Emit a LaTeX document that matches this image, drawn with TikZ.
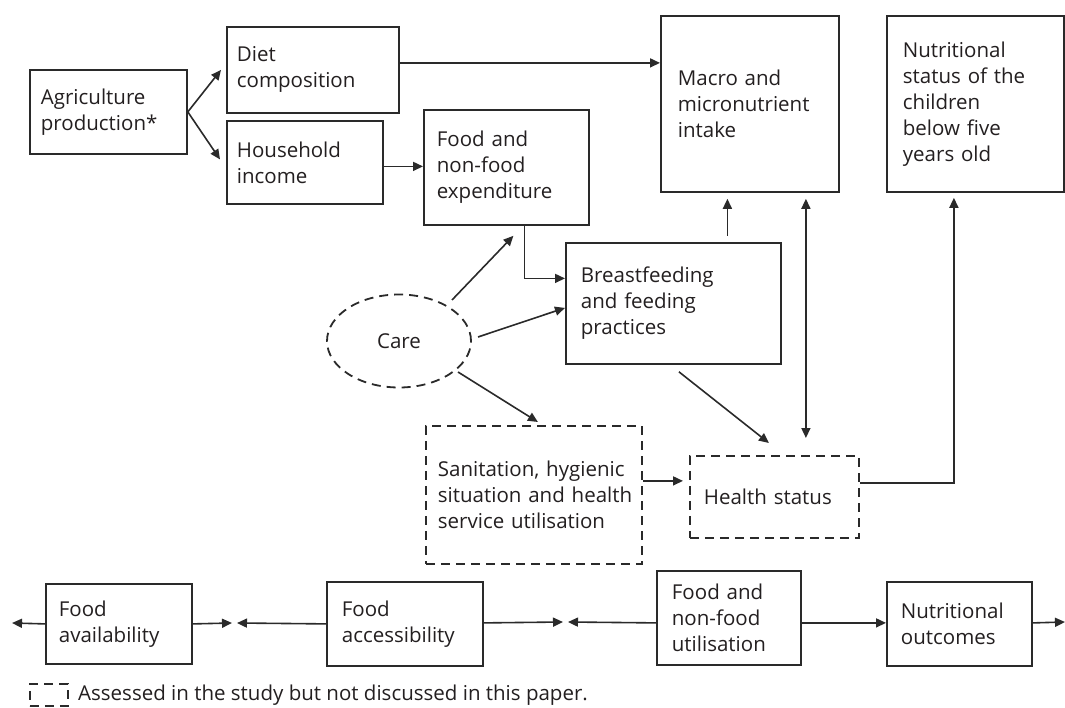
\documentclass[tikz,border=0pt]{standalone}
\usepackage{fontspec}
\setmainfont{Open Sans}
\usetikzlibrary{arrows.meta,shapes.geometric}
\definecolor{ink}{HTML}{231F20}
\definecolor{lin}{HTML}{2A2A2A}
\begin{document}
\begin{tikzpicture}[x=1pt,y=-1pt,
  every node/.style={font=\fontsize{20.5}{26}\selectfont, text=ink},
  box/.style={draw=lin, line width=1.8pt, align=left, anchor=north west, inner ysep=2pt},
  dbox/.style={box, dash pattern=on 9pt off 6pt},
  arr/.style={draw=lin, line width=1.6pt, -{Triangle[length=10pt,width=9pt]}},
  arrb/.style={draw=lin, line width=1.6pt, {Triangle[length=10pt,width=9pt]}-{Triangle[length=10pt,width=9pt]}},
  ln/.style={draw=lin, line width=1.6pt}]
\useasboundingbox (0,0) rectangle (1065,708);
% boxes
\node[box, inner xsep=11pt, text width=135pt, minimum height=84pt] (agri) at (29,69) {Agriculture\\production*};
\node[box, inner xsep=10pt, text width=152pt, minimum height=86pt] (diet) at (226,26) {Diet\\composition};
\node[box, inner xsep=10pt, text width=136pt, minimum height=83pt] (house) at (226,120) {Household\\income};
\node[box, inner xsep=13pt, text width=139pt, minimum height=115pt] (exp) at (423,109) {Food and\\non-food\\expenditure};
\node[box, inner xsep=17pt, text width=144pt, minimum height=176pt] (macro) at (660,15) {Macro and\\micronutrient\\intake};
\node[box, inner xsep=16pt, text width=145pt, minimum height=176pt] (nut) at (886,15) {Nutritional\\\mbox{status of the}\\children\\below five\\years old};
\node[box, inner xsep=15pt, text width=185pt, minimum height=121pt] (breast) at (565,242) {Breastfeeding\\and feeding\\practices};
\node[draw=lin, line width=1.8pt, dash pattern=on 9pt off 6pt, ellipse, minimum width=144pt, minimum height=93pt, inner sep=0pt] (care) at (399,341) {Care};
\node[dbox, inner xsep=12pt, text width=192pt, minimum height=138pt] (sanit) at (425,425) {\mbox{Sanitation, hygienic}\\\mbox{situation and health}\\\mbox{service utilisation}};
\node[dbox, inner xsep=14pt, text width=141pt, minimum height=82pt] (health) at (689,455) {Health status};
% bottom row
\node[box, inner xsep=13pt, text width=120pt, minimum height=80pt] (avail) at (45,583) {Food\\availability};
\node[box, inner xsep=15pt, text width=126pt, minimum height=84pt] (access) at (326,581) {Food\\accessibility};
\node[box, inner xsep=15pt, text width=114pt, minimum height=94pt] (util) at (656,570) {Food and\\non-food\\utilisation};
\node[box, inner xsep=14pt, text width=117pt, minimum height=84pt] (outc) at (886,581) {Nutritional\\outcomes};
% legend
\node[draw=lin, line width=1.8pt, dash pattern=on 9pt off 6pt, minimum width=38pt, minimum height=22pt, inner sep=0pt, anchor=north west] (leg) at (29,683) {};
\node[anchor=west, inner sep=0pt] (legtxt) at (78,695) {Assessed in the study but not discussed in this paper.};
% top connectors
\draw[arr] (agri.east) -- ([xshift=-5pt]diet.west);
\draw[arr] (agri.east) -- ([shift={(-6pt,3pt)}]house.west);
\coordinate (d1) at ([yshift=7pt]diet.east);
\draw[arr] (d1) -- (d1 -| macro.west);
\coordinate (h1) at ([yshift=-4pt]house.east);
\draw[arr] (h1) -- (h1 -| exp.west);
\coordinate (e1) at ([xshift=18pt]exp.south);
\coordinate (b1) at ([yshift=25pt]breast.west);
\draw[arr] (e1) |- (b1);
\draw[arr] ([shift={(53pt,41pt)}]care.center) -- ([shift={(7pt,-10pt)}]exp.south);
\draw[arr] ([shift={(79pt,4pt)}]care.center) -- ([yshift=-4.5pt]breast.west);
\draw[arr] ([shift={(59pt,-31pt)}]care.center) -- ([shift={(4pt,3pt)}]sanit.north);
\draw[arr] ([shift={(5.5pt,-7pt)}]breast.south) -- ([shift={(-5.5pt,12pt)}]health.north);
\coordinate (bm1) at ([shift={(54pt,6pt)}]breast.north);
\coordinate (bm2) at ([yshift=-6pt]macro.south);
\draw[arr] (bm1) -- (bm1 |- bm2);
\coordinate (mh1) at ([shift={(56pt,-6pt)}]macro.south);
\coordinate (mh2) at ([yshift=17pt]health.north);
\draw[arrb] (mh1) -- (mh1 |- mh2);
\coordinate (sh1) at ([yshift=14pt]sanit.east);
\coordinate (sh2) at ([xshift=-6pt]health.west);
\draw[arr] (sh1) -- (sh1 -| sh2);
\coordinate (hn1) at ([yshift=14pt]health.east);
\coordinate (hn2) at ([shift={(-21.5pt,-5pt)}]nut.south);
\draw[arr] (hn1) -| (hn2);
% bottom connectors
\coordinate (lend) at (12,623);
\draw[arr] (avail.west) -- (lend);
\coordinate (m1) at (232,623);
\coordinate (m2) at (237,623);
\draw[arr] (avail.east) -- (m1);
\draw[arr] (access.west) -- (m2);
\coordinate (m3) at (563,622);
\coordinate (m4) at (568,622);
\draw[arr] ([yshift=1pt]access.east) -- (m3);
\draw[arr] ([yshift=-5pt]util.west) -- (m4);
\coordinate (u1) at ([yshift=-5pt]util.east);
\draw[arr] (u1) -- (u1 -| outc.west);
\coordinate (rend) at (1065,622);
\draw[arr] ([yshift=1pt]outc.east) -- (rend);
\end{tikzpicture}
\end{document}
